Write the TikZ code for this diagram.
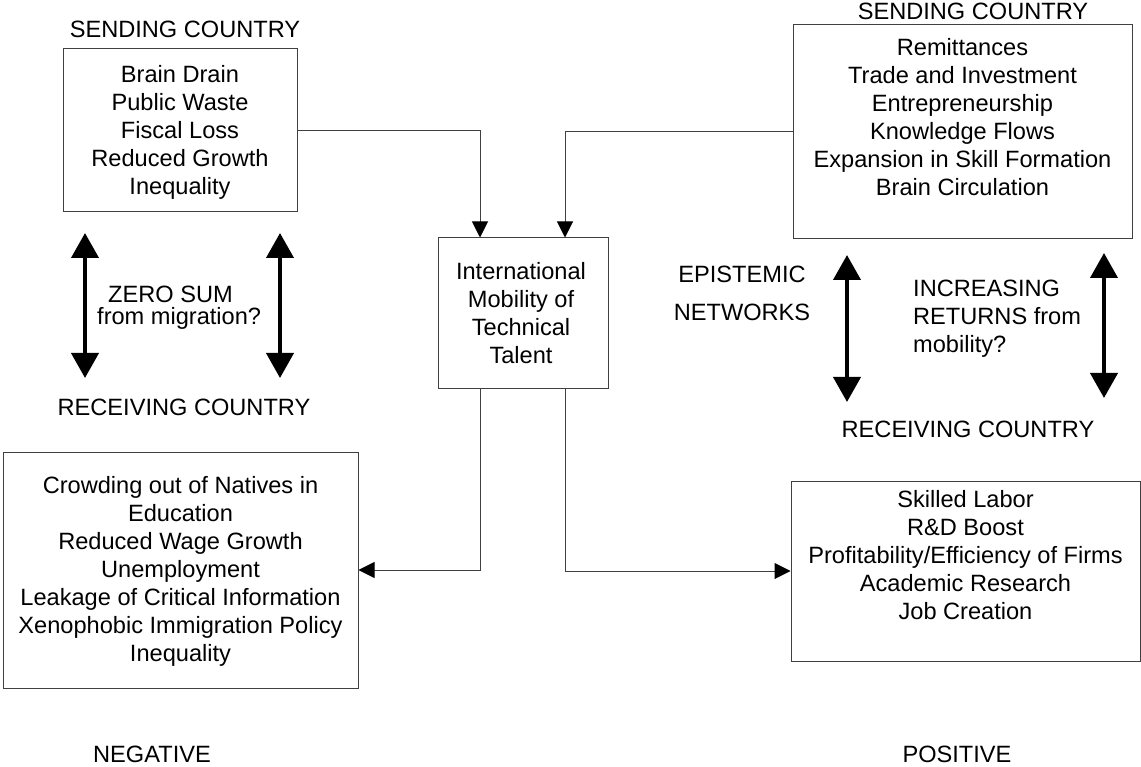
\documentclass[tikz,border=0pt]{standalone}
\usepackage{fontspec}
\setmainfont{Liberation Sans}
\usetikzlibrary{math}
\usetikzlibrary{arrows.meta}
\usetikzlibrary{positioning}
\tikzset{cn/.style={-{Triangle[width=16pt,length=16pt,black]}, line width=1pt, draw=black!75}}
\tikzset{da/.style={{Triangle[width=27pt,length=25pt]}-{Triangle[width=27pt,length=25pt]}, line width=4pt}}

\begin{document}
\begin{tikzpicture}[x=1pt, y=-1pt]
\tikzset{
  bx/.style={draw=black!75, line width=1pt, inner sep=0pt},
  tx/.style={inner sep=0pt, align=center, font=\fontsize{23.6}{28}\selectfont},
}
\useasboundingbox (0,0) rectangle (1141,767);

\tikzmath{\dx=43;}

% boxes
\node[bx, minimum width=234pt, minimum height=163pt] (lt) at (180,130.5) {};
\node[tx, anchor=north] (ltt) at (180,65.7) {Brain Drain\\Public Waste\\Fiscal Loss\\Reduced Growth\\Inequality};
\node[bx, minimum width=339pt, minimum height=214pt] (rt) at (962.5,132) {};
\node[tx, anchor=north] (rtt) at (962.5,38) {Remittances\\Trade and Investment\\Entrepreneurship\\Knowledge Flows\\Expansion in Skill Formation\\Brain Circulation};
\node[bx, minimum width=170pt, minimum height=150pt] (ct) at (523,313) {};
\node[tx, anchor=north] (ctt) at (521,262) {International\\Mobility of\\Technical\\Talent};
\node[bx, minimum width=355pt, minimum height=236pt] (lb) at (180.5,570) {};
\node[tx, anchor=north] (lbt) at (180.5,476) {Crowding out of Natives in\\Education\\Reduced Wage Growth\\Unemployment\\Leakage of Critical Information\\Xenophobic Immigration Policy\\Inequality};
\node[bx, minimum width=349pt, minimum height=180pt] (rb) at (965.5,571) {};
\node[tx, anchor=north] (rbt) at (965.5,490) {Skilled Labor\\R\&D Boost\\Profitability/Efficiency of Firms\\Academic Research\\Job Creation};

% labels
\node[tx, anchor=base] (sl) at (185,38) {SENDING COUNTRY};
\node[tx, anchor=base] (sr) at (973,20) {SENDING COUNTRY};
\node[tx, anchor=base] (rl) at (184,415) {RECEIVING COUNTRY};
\node[tx, anchor=base] (rr) at (968,437) {RECEIVING COUNTRY};
\node[tx, anchor=base] (neg) at (152,762) {NEGATIVE};
\node[tx, anchor=base] (pos) at (957,762) {POSITIVE};
\node[tx, align=left, anchor=north west, font=\fontsize{23.6}{22}\selectfont] (zs) at (97,286) {\hspace*{11pt}ZERO SUM\\from migration?};
\node[tx, anchor=north, font=\fontsize{23.6}{38}\selectfont] (ep) at (742,266) {EPISTEMIC\\NETWORKS};
\node[tx, align=left, anchor=north west] (ir) at (913,280) {INCREASING\\RETURNS from\\mobility?};

% double arrows
\coordinate (l1a) at (85,233);
\coordinate (l1b) at (85,378);
\coordinate (l2a) at (280,233);
\coordinate (l2b) at (280,378);
\coordinate (r1a) at (847,255);
\coordinate (r1b) at (847,402);
\coordinate (r2a) at (1104,253);
\coordinate (r2b) at (1104,398);
\draw[da] (l1a) -- (l1b);
\draw[da] (l2a) -- (l2b);
\draw[da] (r1a) -- (r1b);
\draw[da] (r2a) -- (r2b);

% connectors
\draw[cn] (lt.east) -| ([xshift=-\dx]ct.north);
\draw[cn] (rt.west) -| ([xshift=\dx-1]ct.north);
\draw[cn] ([xshift=-\dx]ct.south) |- (lb.east);
\draw[cn] ([xshift=\dx-1]ct.south) |- (rb.west);
\end{tikzpicture}
\end{document}
